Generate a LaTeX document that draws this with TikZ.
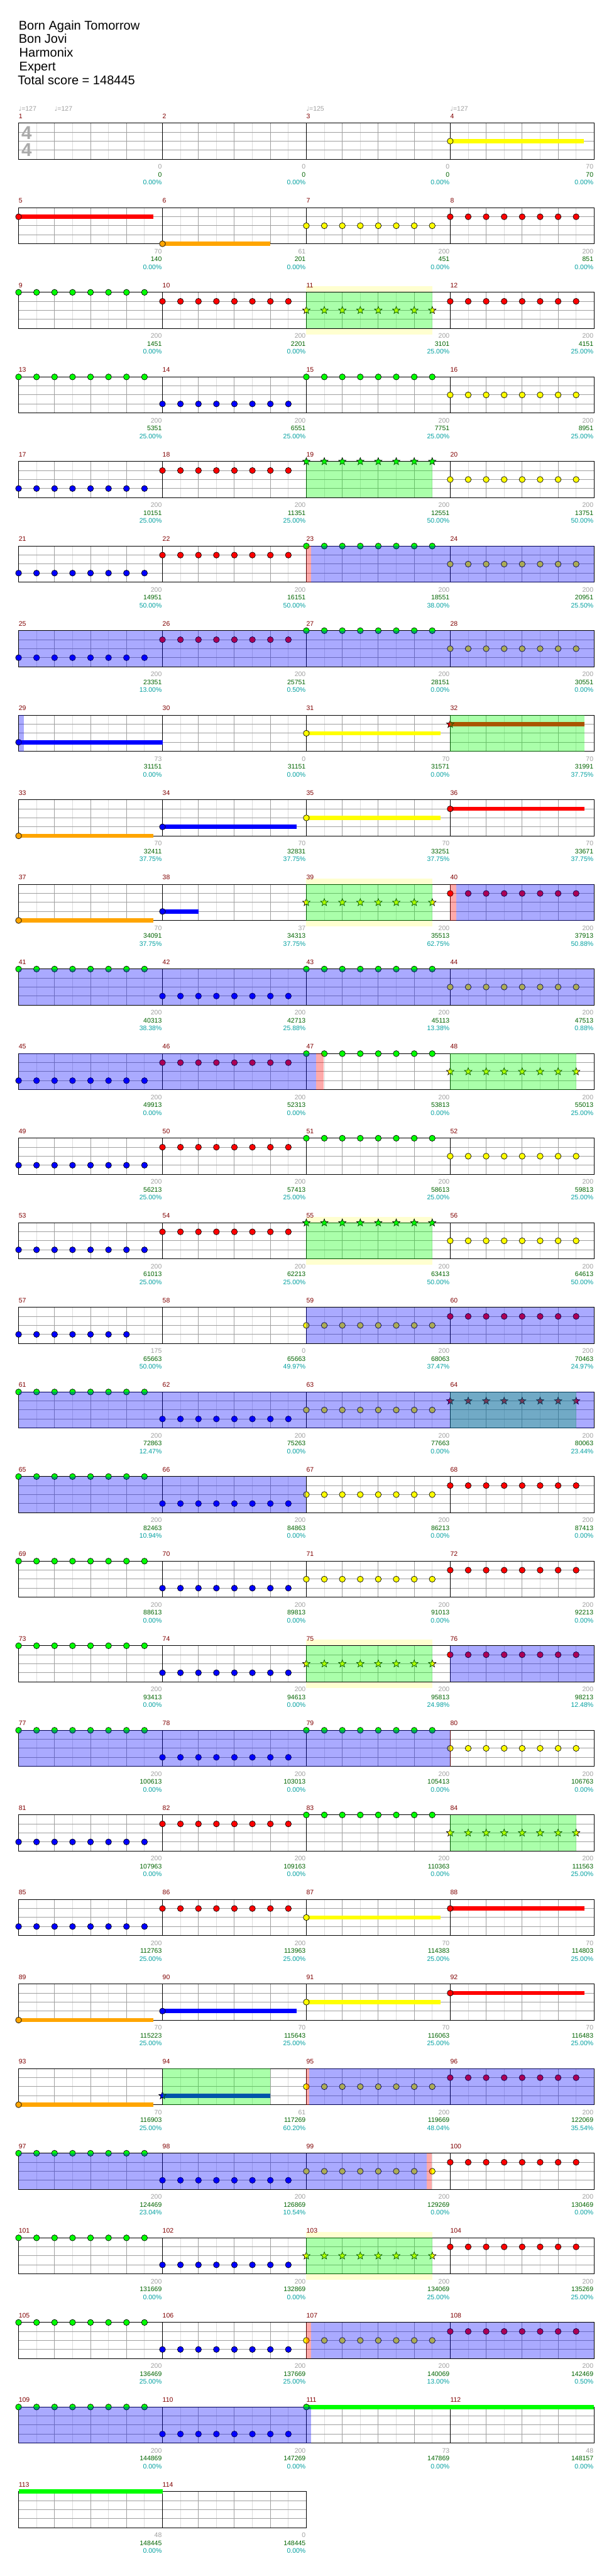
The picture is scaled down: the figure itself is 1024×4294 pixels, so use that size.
\documentclass[tikz,border=0pt]{standalone}
\usepackage{fontspec}
\setmainfont{Liberation Sans}
\newfontfamily\djv{DejaVu Sans}
\definecolor{nG}{RGB}{0,255,0}
\definecolor{nR}{RGB}{255,0,0}
\definecolor{nY}{RGB}{255,255,0}
\definecolor{nB}{RGB}{0,0,255}
\definecolor{nO}{RGB}{255,165,0}
\definecolor{halocol}{RGB}{255,255,208}
\definecolor{labred}{RGB}{128,0,0}
\definecolor{numgray}{RGB}{160,160,160}
\definecolor{numgreen}{RGB}{0,100,0}
\definecolor{numcyan}{RGB}{0,160,160}
\definecolor{gridgray}{RGB}{160,160,160}
\definecolor{gridlight}{RGB}{220,220,220}
\definecolor{sigcol}{RGB}{170,170,170}
\newcommand\setm[1]{%
  \pgfmathtruncatemacro\cM{mod((#1)-1,4)}%
  \pgfmathtruncatemacro\rM{((#1)-1)/4}%
  \pgfmathsetmacro\xO{31+240*\cM}%
  \pgfmathsetmacro\yO{205.3+141*\rM}}
\newcommand\starat[3]{\filldraw[notestyle,fill=#3] ({#1},{#2}) +(-90:6.5) -- +(-54:2.8) -- +(-18:6.5) -- +(18:2.8) -- +(54:6.5) -- +(90:2.8) -- +(126:6.5) -- +(162:2.8) -- +(198:6.5) -- +(234:2.8) -- cycle;}
\newcommand\mnotes[4][8]{\setm{#2}\foreach \k in {1,...,#1}{\filldraw[notestyle,fill=#4] ({\xO+30*(\k-1)},{\yO+15*#3}) circle[radius=5pt];}}
\newcommand\mstars[3]{\setm{#1}\foreach \k in {0,...,7}{\starat{\xO+30*\k}{\yO+15*#2}{#3}}}
\newcommand\msus[5]{\setm{#1}\fill[#3] ({\xO+#4},{\yO+15*#2-3.5}) rectangle ({\xO+#5},{\yO+15*#2+3.5});
  \filldraw[notestyle,fill=#3] ({\xO+#4},{\yO+15*#2}) circle[radius=5pt];}
\newcommand\msusstar[5]{\setm{#1}\fill[#3] ({\xO+#4},{\yO+15*#2-3.5}) rectangle ({\xO+#5},{\yO+15*#2+3.5});
  \starat{\xO+#4}{\yO+15*#2}{#3}}
\newcommand\regn[4]{\setm{#1}\fill[#4] ({\xO+#2},\yO) rectangle ({\xO+#3},{\yO+60});}
\newcommand\halo[3]{\setm{#1}\fill[halocol] ({\xO+#2},{\yO-10}) rectangle ({\xO+#3},{\yO+70});}
\newcommand\staffrow[2]{%
  \pgfmathsetmacro\yY{205.3+141*#1}\pgfmathsetmacro\xE{31+240*#2}%
  \fill[white] (31,\yY) rectangle (\xE,{\yY+60});
  \foreach \q in {1,...,#2}{\pgfmathsetmacro\xS{31+240*(\q-1)}%
    \foreach \e in {30,90,150,210}{\draw[lightln] ({\xS+\e},\yY) -- ({\xS+\e},{\yY+60});}
    \foreach \e in {60,120,180}{\draw[grayln] ({\xS+\e},\yY) -- ({\xS+\e},{\yY+60});}}
  \foreach \j in {15,30,45}{\draw[grayln] (31,{\yY+\j}) -- (\xE,{\yY+\j});}
  \foreach \q in {1,...,#2}{\draw[blackln] ({31+240*\q},\yY) -- ({31+240*\q},{\yY+60});}
  \draw[blackln] (31,\yY) rectangle (\xE,{\yY+60});}
\begin{document}
\begin{tikzpicture}[x=1pt,y=-1pt,
  notestyle/.style={draw=black,line width=0.7pt},
  lightln/.style={draw=gridlight,line width=1pt},
  grayln/.style={draw=gridgray,line width=1pt},
  blackln/.style={draw=black,line width=1.1pt},
  bluov/.style={fill=nB,fill opacity=0.333},
  grnov/.style={fill=nG,fill opacity=0.333},
  pinkov/.style={fill=nR,fill opacity=0.333},
  small/.style={inner sep=0,font=\fontsize{11}{12}\selectfont},
  numst/.style={small,anchor=east},
  labst/.style={small,anchor=west,text=labred},
  titlest/.style={anchor=base west,inner sep=0,font=\fontsize{21}{24}\selectfont}]
\useasboundingbox (0,0) rectangle (1024,4294);
\fill[white] (0,0) rectangle (1024,4294);
% title
\node[titlest] (t1) at (31,49.3) {Born Again Tomorrow};
\node[titlest] (t2) at (31,72.3) {Bon Jovi};
\node[titlest] (t3) at (32,95.3) {Harmonix};
\node[titlest] (t4) at (32,118.3) {Expert};
\node[titlest] (t5) at (29.5,141.3) {Total score = 148445};
% tempo marks
\foreach \tx/\tv [count=\i] in {31/127,91/127,511/125,751/127}{
  \node[small,anchor=west,text=numgray] (tempo\i) at (\tx,181) {{\djv\fontsize{10}{12}\selectfont ♩}=\tv};}
% halos
\foreach \m in {11,39,55,75,103}{\halo{\m}{0}{210}}
% staff grids
\foreach \r in {0,...,27}{\staffrow{\r}{4}}
\staffrow{28}{2}
% time signature
\node[inner sep=0,text=sigcol,font=\bfseries\fontsize{31}{31}\selectfont] (ts1) at (44.5,221.5) {4};
\node[inner sep=0,text=sigcol,font=\bfseries\fontsize{31}{31}\selectfont] (ts2) at (44.5,250) {4};
% sustains
\foreach \m/\l/\c/\a/\b in {4/2/nY/0/223,5/1/nR/0/224.7,6/4/nO/0/180,29/3/nB/0/240,31/2/nY/0/224,
  33/4/nO/0/224.7,34/3/nB/0/224,35/2/nY/0/224,36/1/nR/0/223.6,37/4/nO/0/224.7,38/3/nB/0/60,
  87/2/nY/0/224,88/1/nR/0/223.6,89/4/nO/0/224.7,90/3/nB/0/224,91/2/nY/0/224,92/1/nR/0/223.6,
  93/4/nO/0/224.7,111/0/nG/0/479.5}{\msus{\m}{\l}{\c}{\a}{\b}}
\msusstar{32}{1}{nR}{0}{223.6}
\msusstar{94}{3}{nB}{0}{180}
\setm{113}\fill[nG] (\xO,{\yO-3.5}) rectangle ({\xO+240},{\yO+3.5});
% eighth notes
\foreach \m/\l/\c in {7/2/nY,8/1/nR,9/0/nG,10/1/nR,12/1/nR,13/0/nG,14/3/nB,15/0/nG,16/2/nY,
  17/3/nB,18/1/nR,20/2/nY,21/3/nB,22/1/nR,23/0/nG,24/2/nY,25/3/nB,26/1/nR,27/0/nG,28/2/nY,
  40/1/nR,41/0/nG,42/3/nB,43/0/nG,44/2/nY,45/3/nB,46/1/nR,47/0/nG,49/3/nB,50/1/nR,51/0/nG,52/2/nY,
  53/3/nB,54/1/nR,56/2/nY,59/2/nY,60/1/nR,61/0/nG,62/3/nB,63/2/nY,65/0/nG,66/3/nB,67/2/nY,68/1/nR,
  69/0/nG,70/3/nB,71/2/nY,72/1/nR,73/0/nG,74/3/nB,76/1/nR,77/0/nG,78/3/nB,79/0/nG,80/2/nY,
  81/3/nB,82/1/nR,83/0/nG,85/3/nB,86/1/nR,95/2/nY,96/1/nR,97/0/nG,98/3/nB,99/2/nY,100/1/nR,
  101/0/nG,102/3/nB,104/1/nR,105/0/nG,106/3/nB,107/2/nY,108/1/nR,109/0/nG,110/3/nB}{\mnotes{\m}{\l}{\c}}
\mnotes[7]{57}{3}{nB}
% stars
\foreach \m/\l/\c in {11/2/nY,19/0/nG,39/2/nY,48/2/nY,55/0/nG,64/1/nR,75/2/nY,84/2/nY,103/2/nY}{\mstars{\m}{\l}{\c}}
% overdrive overlays
\foreach \m/\b in {11/210,19/210,32/223.6,39/210,48/210,55/210,64/210,75/210,84/210,94/180,103/210}{\regn{\m}{0}{\b}{grnov}}
% star power active overlays
\foreach \m/\a/\b in {23/8/480,25/0/960,29/0/9,40/10/240,41/0/960,45/0/496,59/0/480,61/0/960,65/0/480,
  76/0/240,77/0/720,95/5/480,97/0/681,107/8/480,109/0/488}{\regn{\m}{\a}{\b}{bluov}}
\foreach \m/\a/\b in {23/0/8,40/0/10,47/16/29,95/0/5,99/201/209,107/0/8,80/-0.5/1}{\regn{\m}{\a}{\b}{pinkov}}
% measure numbers
\foreach \m in {1,...,114}{\setm{\m}\node[labst] (lab\m) at (\xO,{\yO-11.6}) {\m};}
% scores
\foreach \m/\g/\s/\p in {1/0/0/0.00,2/0/0/0.00,3/0/0/0.00,4/70/70/0.00,5/70/140/0.00,6/61/201/0.00,
  7/200/451/0.00,8/200/851/0.00,9/200/1451/0.00,10/200/2201/0.00,11/200/3101/25.00,12/200/4151/25.00,
  13/200/5351/25.00,14/200/6551/25.00,15/200/7751/25.00,16/200/8951/25.00,17/200/10151/25.00,
  18/200/11351/25.00,19/200/12551/50.00,20/200/13751/50.00,21/200/14951/50.00,22/200/16151/50.00,
  23/200/18551/38.00,24/200/20951/25.50,25/200/23351/13.00,26/200/25751/0.50,27/200/28151/0.00,
  28/200/30551/0.00,29/73/31151/0.00,30/0/31151/0.00,31/70/31571/0.00,32/70/31991/37.75,
  33/70/32411/37.75,34/70/32831/37.75,35/70/33251/37.75,36/70/33671/37.75,37/70/34091/37.75,
  38/37/34313/37.75,39/200/35513/62.75,40/200/37913/50.88,41/200/40313/38.38,42/200/42713/25.88,
  43/200/45113/13.38,44/200/47513/0.88,45/200/49913/0.00,46/200/52313/0.00,47/200/53813/0.00,
  48/200/55013/25.00,49/200/56213/25.00,50/200/57413/25.00,51/200/58613/25.00,52/200/59813/25.00,
  53/200/61013/25.00,54/200/62213/25.00,55/200/63413/50.00,56/200/64613/50.00,57/175/65663/50.00,
  58/0/65663/49.97,59/200/68063/37.47,60/200/70463/24.97,61/200/72863/12.47,62/200/75263/0.00,
  63/200/77663/0.00,64/200/80063/23.44,65/200/82463/10.94,66/200/84863/0.00,67/200/86213/0.00,
  68/200/87413/0.00,69/200/88613/0.00,70/200/89813/0.00,71/200/91013/0.00,72/200/92213/0.00,
  73/200/93413/0.00,74/200/94613/0.00,75/200/95813/24.98,76/200/98213/12.48,77/200/100613/0.00,
  78/200/103013/0.00,79/200/105413/0.00,80/200/106763/0.00,81/200/107963/0.00,82/200/109163/0.00,
  83/200/110363/0.00,84/200/111563/25.00,85/200/112763/25.00,86/200/113963/25.00,87/70/114383/25.00,
  88/70/114803/25.00,89/70/115223/25.00,90/70/115643/25.00,91/70/116063/25.00,92/70/116483/25.00,
  93/70/116903/25.00,94/61/117269/60.20,95/200/119669/48.04,96/200/122069/35.54,97/200/124469/23.04,
  98/200/126869/10.54,99/200/129269/0.00,100/200/130469/0.00,101/200/131669/0.00,102/200/132869/0.00,
  103/200/134069/25.00,104/200/135269/25.00,105/200/136469/25.00,106/200/137669/25.00,
  107/200/140069/13.00,108/200/142469/0.50,109/200/144869/0.00,110/200/147269/0.00,
  111/73/147869/0.00,112/48/148157/0.00,113/48/148445/0.00,114/0/148445/0.00}{
  \setm{\m}
  \node[numst,text=numgray] (g\m) at ({\xO+239},{\yO+72.7}) {\g};
  \node[numst,text=numgreen] (s\m) at ({\xO+239},{\yO+85.7}) {\s};
  \node[numst,text=numcyan] (p\m) at ({\xO+239},{\yO+98.7}) {\p\%};}
\end{tikzpicture}
\end{document}
